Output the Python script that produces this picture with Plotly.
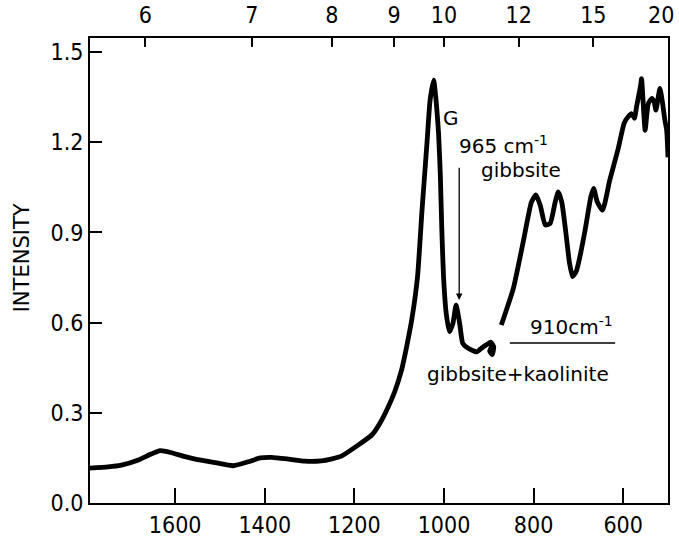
import plotly.graph_objects as go

# Wavenumber (cm^-1) and intensity, segment 1 (up to the 910 cm^-1 loop)
wn_a = [1790, 1750, 1720, 1682, 1655, 1633, 1610, 1580, 1555, 1510, 1470, 1437, 1410, 1385,
        1347, 1310, 1274, 1250, 1229, 1194, 1160, 1142, 1125, 1110, 1095, 1082, 1072, 1059,
        1049, 1038, 1031, 1023, 1017, 1012, 1008, 1005, 1001, 995, 988, 980, 973, 965, 958,
        945, 927, 912, 903, 896, 889, 892, 898, 893]
int_a = [0.116, 0.120, 0.126, 0.143, 0.162, 0.174, 0.168, 0.155, 0.146, 0.134, 0.124, 0.137,
         0.150, 0.152, 0.146, 0.139, 0.140, 0.147, 0.156, 0.190, 0.228, 0.268, 0.318, 0.370,
         0.440, 0.530, 0.609, 0.753, 0.974, 1.196, 1.340, 1.407, 1.329, 1.229, 1.085, 0.919,
         0.753, 0.631, 0.570, 0.598, 0.658, 0.598, 0.531, 0.514, 0.503, 0.520, 0.528, 0.535,
         0.520, 0.494, 0.505, 0.522]

# Segment 2 (long-wavelength region)
wn_b = [872, 845, 823, 805, 795, 785, 774, 763, 752, 745, 737, 728, 720, 713, 705, 700, 685,
        672, 666, 658, 646, 630, 611, 598, 589, 581, 575, 570, 561, 559, 554, 551, 544, 536,
        531, 527, 518, 512, 507, 503, 500]
int_b = [0.592, 0.715, 0.870, 1.000, 1.025, 0.990, 0.925, 0.930, 1.000, 1.035, 1.000, 0.900,
         0.800, 0.753, 0.770, 0.797, 0.908, 1.020, 1.047, 1.002, 0.974, 1.074, 1.180, 1.263,
         1.285, 1.295, 1.280, 1.320, 1.390, 1.412, 1.296, 1.240, 1.329, 1.346, 1.335, 1.307,
         1.379, 1.329, 1.274, 1.240, 1.150]

bottom_ticks = [1600, 1400, 1200, 1000, 800, 600]
micron_ticks = [6, 7, 8, 9, 10, 12, 15, 20]
micron_labels = ["6", "7", "8", "9", "10", "12", "15", "20"]
y_ticks = [0.0, 0.3, 0.6, 0.9, 1.2, 1.5]

FONT = "DejaVu Sans Condensed, Liberation Sans Narrow, Arial Narrow, Liberation Sans, sans-serif"
AFONT = "DejaVu Sans, Liberation Sans, sans-serif"
XR = [1790, 500]
YR = [0, 1.547]

fig = go.Figure()
for wx, iy in ((wn_a, int_a), (wn_b, int_b)):
    fig.add_trace(go.Scatter(x=wx, y=iy, mode="lines",
                             line=dict(color="black", width=4.8, shape="spline", smoothing=0.5),
                             showlegend=False, hoverinfo="skip"))

# invisible trace for top axis
fig.add_trace(go.Scatter(x=[10000 / m for m in micron_ticks], y=[None] * len(micron_ticks),
                         xaxis="x2", yaxis="y", mode="markers", showlegend=False,
                         hoverinfo="skip"))

common = dict(showgrid=False, zeroline=False, automargin=False, ticklabeloverflow="allow",
              tickcolor="black", tickwidth=2, showline=True, linewidth=2, linecolor="black",
              ticks="inside", tickfont=dict(size=23, family=FONT))

# last top label (at the right edge) is drawn separately so it stays inside the page
top_text = micron_labels[:-1] + [""]

fig.update_layout(
    width=679, height=540,
    margin=dict(l=90, r=11, t=38, b=37),
    paper_bgcolor="white", plot_bgcolor="white",
    font=dict(family=FONT, color="black", size=21),
    xaxis=dict(range=XR, tickvals=bottom_ticks, ticktext=[str(t) for t in bottom_ticks],
               ticklen=15, **common),
    xaxis2=dict(range=XR, overlaying="x", side="top",
                tickvals=[10000 / m for m in micron_ticks], ticktext=top_text,
                ticklen=9, ticklabelstandoff=4, **common),
    yaxis=dict(range=YR, tickvals=y_ticks, ticktext=[f"{v:.1f}" for v in y_ticks],
               ticklen=12, mirror=True, **common),
)

fig.add_annotation(x=10000 / micron_ticks[-1], xref="x", y=1.049, yref="paper",
                   xanchor="right", yanchor="middle", xshift=8, text=micron_labels[-1],
                   showarrow=False, font=dict(size=23, family=FONT, color="black"))

ann_font = dict(family=AFONT, size=20, color="black")
fig.add_annotation(x=-0.117, y=0.527, xref="paper", yref="paper", xanchor="center",
                   yanchor="middle", text="INTENSITY", textangle=-90, showarrow=False,
                   font=dict(family=AFONT, size=21, color="black"))
fig.add_annotation(x=985, y=1.28, text="G", showarrow=False, font=ann_font)
fig.add_annotation(x=868, y=1.19, text="965 cm<sup>-1</sup>", showarrow=False, font=ann_font)
fig.add_annotation(x=828, y=1.108, text="gibbsite", showarrow=False, font=ann_font)
fig.add_annotation(x=966, y=0.675, ax=966, ay=1.12, axref="x", ayref="y",
                   text="", showarrow=True, arrowhead=2, arrowsize=1, arrowwidth=1.3,
                   arrowcolor="black")
fig.add_annotation(x=716, y=0.59, text="910cm<sup>-1</sup>", showarrow=False, font=ann_font)
fig.add_shape(type="line", x0=853, x1=618, y0=0.532, y1=0.532, xref="x", yref="y",
              line=dict(color="black", width=1.5))
fig.add_annotation(x=835, y=0.43, text="gibbsite+kaolinite", showarrow=False, font=ann_font)

fig.write_html("out.html", config={"displayModeBar": False},
               post_script="document.body.style.margin='0';document.body.style.overflow='hidden';")
